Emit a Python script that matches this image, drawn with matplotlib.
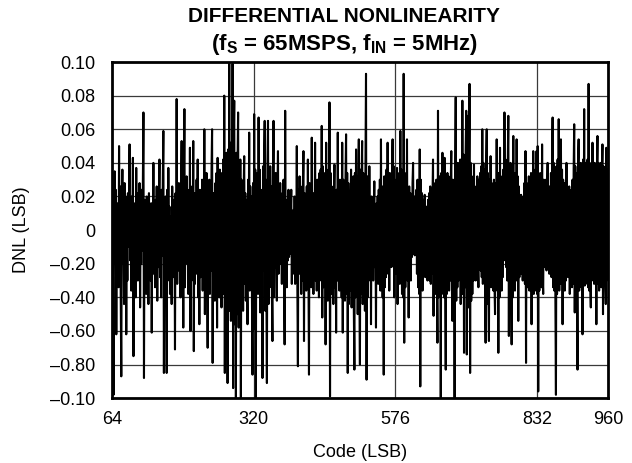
"""
Differential nonlinearity of an ADC across output codes (fS = 65MSPS, fIN = 5MHz).
"""

import numpy as np
import matplotlib

matplotlib.use("Agg")
import matplotlib.pyplot as plt

# First code on the x axis; one DNL value per code from here on
first_code = 64

# DNL per code, in thousandths of an LSB (32 codes per row)
dnl_mlsb = [
    -5, 14, -28, -98, 8, 35, -18, 24, -62, 10, -22, 16, -34, 50, -12, 26, -40, -87, 12, 36, -20, 6, -44, 28, -15, 20, -62, 9, -30, 22, -10, 18,
    51, -18, 12, -36, 20, -8, 43, -75, 16, -24, 6, -40, 37, -10, 22, -30, 14, -16, 28, -46, 8, -20, 24, -12, 30, 70, -88, 18, -26, 10, -38, 20,
    -14, 10, -44, 22, -18, 8, -30, 16, -61, 12, -20, 40, -26, 6, -34, 18, -12, 26, -42, 10, -22, 20, 42, -28, 12, -40, 24, -15, 30, 59, -85, 14,
    -22, 20, -10, -85, 24, -30, 37, -16, 14, -38, 8, -20, -44, 26, -12, 18, -28, 10, -71, 22, -14, 78, -32, 16, -24, 28, -18, 12, -40, 24, 53, -26,
    20, -58, 28, 72, -34, 14, -20, 32, -12, 24, -38, 10, -22, 49, -60, 18, -30, 26, -14, 53, -72, 22, -32, 12, -26, 30, -18, 42, -40, 10, -56, 24,
    -28, 20, -12, 30, -36, 16, -22, 60, -50, 26, -18, 34, -28, -70, 20, -14, 30, -38, 18, -24, 36, 60, -79, 22, -32, 14, -42, 28, -16, 34, -58, 43,
    -26, 30, -40, 36, -30, 24, -46, 34, -28, 42, -38, 80, -85, 38, -44, 46, -30, -91, 48, -40, 99, -48, 52, -54, 44, -36, 99, -94, 50, 77, -56, 42,
    -100, 46, -50, 40, 70, -58, 36, -44, 42, -100, 30, -40, 28, -48, 24, 44, -32, 22, -42, 18, -28, -56, 30, -20, 58, -36, 26, -30, 20, -40, -86, 28,
    -59, 69, -30, 36, -100, 28, -22, 34, -38, 67, -26, 36, -49, 24, -32, 20, -88, 38, -24, 42, 65, -48, 30, -28, -91, 40, 65, -44, 28, -34, 38, -26,
    26, -38, -66, 30, 65, -40, 24, -22, 34, -18, -42, 22, 47, -26, 16, -14, 28, -20, 14, -32, 22, -16, 30, -26, -68, 71, -22, 18, -34, 12, -18, 24,
    -16, 10, -14, 8, 24, -32, 6, -14, 12, -26, 20, -32, 16, -24, 50, -34, -81, 24, -26, 32, -18, 26, -38, 20, -30, 28, 47, -66, 22, -28, 18, -36,
    26, -30, 42, -22, -86, 28, -18, 24, -34, 55, -24, 18, -38, 22, -14, 52, -30, 26, -36, 30, -20, 28, -40, 34, -24, 36, -30, 62, -52, 38, -34, 30,
    -28, 34, -68, 52, -36, 30, -42, 36, -30, 76, -99, 34, -38, 26, -30, 22, -44, 18, 39, -34, 16, -61, 24, -30, 58, -26, 20, -36, 30, -22, 26, -40,
    52, -61, 30, -32, 24, -42, 32, 57, -38, 34, -85, 28, -44, 22, -36, 16, 36, -46, 26, -38, 32, -48, -83, 34, -40, 48, -30, 32, -50, 28, 54, -36,
    -80, 36, -38, 30, 53, -44, 34, -34, 28, -48, 38, 93, -89, 32, -40, 22, -30, 38, -22, 16, -56, 20, -26, 14, -30, 10, 29, -22, 8, -58, 16, -24,
    20, -32, 24, -26, 30, -36, 54, -28, 26, -40, 22, -86, 32, -34, 26, -28, 36, -22, 52, -26, 30, -36, 34, -18, 26, -22, 32, 54, -20, 38, -40, 24,
    -26, 30, -22, 37, -44, 28, -26, 34, -32, 59, -28, 36, -38, 30, -40, 93, -67, 34, -34, 28, -24, 54, -30, 24, -52, 26, -18, 22, -30, 20, -16, 28,
    40, -14, 20, -15, 16, -12, 24, -26, 30, -34, 24, -38, 48, -93, 30, -28, 22, -36, 18, -24, 14, 21, -28, 10, -20, 14, -30, 18, -24, 22, -30, 26,
    -32, 24, -26, 18, 42, -51, 26, -34, 28, -38, 30, -30, -67, 71, -40, 32, -36, 26, -100, 34, -38, 46, -30, 26, -40, 43, -34, -83, 30, -38, 34, -28,
    32, -36, 26, -30, 28, 47, -32, -54, 30, -38, 28, -100, 36, 79, -42, 38, -34, 40, -30, 36, -28, 42, -44, 38, -26, 77, -38, 45, -73, 40, -34, 48,
    71, -74, 42, 68, -46, 38, 87, -85, 40, -42, 32, -38, 28, -30, 39, -26, 22, -30, 26, -24, 32, -18, -34, 30, -16, 34, -24, 38, -28, 60, -32, 40,
    -30, 36, -38, -67, 40, 60, -44, 34, -36, -66, 30, -28, 44, -34, 28, -30, 26, -36, 30, -32, -50, 28, -32, 54, -36, 30, -73, 34, -40, 49, -34, 30,
    -36, 32, -28, 36, -18, 70, -13, 42, -22, 38, -30, 40, 68, -63, 34, -36, 40, -32, -68, 36, -40, 56, -34, 30, -36, 34, -30, 54, -28, 32, -54, 26,
    -28, 18, -22, 21, -26, 14, -30, 20, -24, 28, -32, 47, -79, 28, -34, 24, -28, 32, -36, 26, -30, 34, -56, 28, -34, 47, -38, 30, -32, 36, -36, 47,
    -38, 50, -96, 34, -36, 28, -30, 34, -34, 51, -28, -38, 30, -22, 26, -20, 30, -24, 22, 40, -18, 24, -26, 26, -20, 34, -28, 38, 67, -34, 40, -36,
    36, -40, -98, 38, -38, 42, -34, 66, -36, 40, -32, 54, -30, 36, -56, 30, -32, 28, -36, 26, -30, 40, -26, 20, -28, 16, 26, -38, 18, -30, 24, -34,
    30, -32, 36, 63, -49, 38, -34, 34, -38, -83, 40, 54, -36, 36, -32, 40, -34, 38, -62, 42, -28, 72, -33, 40, -32, 38, -30, 42, -34, 87, -36, 40,
    -32, -46, 38, -30, 52, -28, 36, -32, 40, -30, 38, -56, 36, 56, -32, 40, -36, 36, -30, 40, -34, 34, 51, -50, 38, -32, 36, -28, -44, 49, -30, 36,
    -10,
]

# Axis ticks and the labels exactly as printed on the original
x_ticks = [64, 320, 576, 832, 960]
y_ticks = [0.10, 0.08, 0.06, 0.04, 0.02, 0.0, -0.02, -0.04, -0.06, -0.08, -0.10]
y_tick_labels = ["0.10", "0.08", "0.06", "0.04", "0.02", "0",
                 "\u20130.20", "\u20130.40", "\u20130.60", "\u20130.80", "\u20130.10"]


def plot_dnl():
    """Draw the DNL trace and save it as out.png."""
    plt.rcParams["font.family"] = ["Liberation Sans", "DejaVu Sans"]
    plt.rcParams["mathtext.fontset"] = "custom"
    plt.rcParams["mathtext.rm"] = "Liberation Sans"
    plt.rcParams["mathtext.bf"] = "Liberation Sans:bold"

    codes = np.arange(first_code, first_code + len(dnl_mlsb))
    dnl = np.array(dnl_mlsb) / 1000.0

    fig = plt.figure(figsize=(6.32, 4.63), dpi=100)
    ax = fig.add_axes([0.177, 0.140, 0.785, 0.726])

    # Grid lines behind the trace
    for y in y_ticks[1:-1]:
        ax.axhline(y, color="#3a3a3a", linewidth=0.9, zorder=1)
    for x in x_ticks[1:-1]:
        ax.axvline(x, color="#3a3a3a", linewidth=0.9, zorder=1)

    ax.plot(codes, dnl, color="black", linewidth=1.5, zorder=2)

    ax.set_xlim(x_ticks[0], x_ticks[-1])
    ax.set_ylim(-0.10, 0.10)
    ax.set_xticks(x_ticks)
    ax.set_yticks(y_ticks)
    ax.set_yticklabels(y_tick_labels)
    ax.tick_params(axis="both", length=0, labelsize=13)
    ax.tick_params(axis="y", pad=12)
    ax.tick_params(axis="x", pad=9)
    for spine in ax.spines.values():
        spine.set_linewidth(2.0)

    ax.set_xlabel("Code (LSB)", fontsize=13, labelpad=12)
    ax.set_ylabel("DNL (LSB)", fontsize=13, labelpad=14)

    fig.text(0.545, 0.985, "DIFFERENTIAL NONLINEARITY", ha="center", va="top",
             fontsize=15, fontweight="bold")
    fig.text(0.545, 0.930, r"(f$_\mathbf{S}$ = 65MSPS, f$_\mathbf{IN}$ = 5MHz)",
             ha="center", va="top", fontsize=16, fontweight="bold")

    fig.savefig("out.png", dpi=100)
    print(f"{len(dnl_mlsb)} codes plotted")


def main():
    plot_dnl()


if __name__ == "__main__":
    main()
